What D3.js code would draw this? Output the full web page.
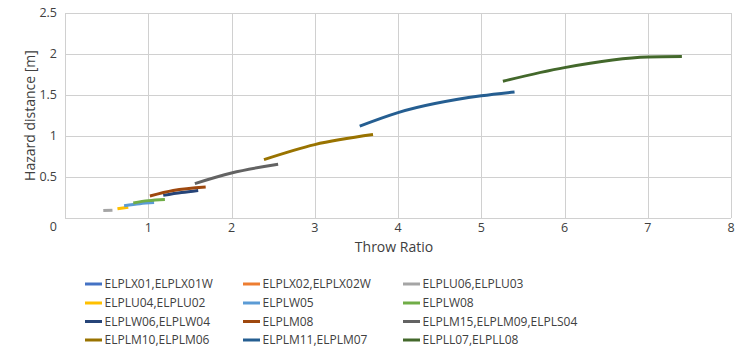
<!DOCTYPE html>
<html lang="en">
<head>
    <meta charset="UTF-8">
    <title>Hazard distance vs throw ratio</title>
    <script src="https://d3js.org/d3.v7.min.js"></script>
    <style>
        body { margin: 0; background: #fff; }
        text { font-family: "Open Sans", sans-serif; fill: #404040; }
        .grid line { stroke: #d0d0d0; stroke-width: 1; }
        .curve { fill: none; stroke-width: 3; stroke-linecap: butt; }
    </style>
</head>
<body>
<div id="chart"></div>
<script>
    // series names, colours and points
    const names = [
        "ELPLX01,ELPLX01W", "ELPLX02,ELPLX02W", "ELPLU06,ELPLU03",
        "ELPLU04,ELPLU02", "ELPLW05", "ELPLW08",
        "ELPLW06,ELPLW04", "ELPLM08", "ELPLM15,ELPLM09,ELPLS04",
        "ELPLM10,ELPLM06", "ELPLM11,ELPLM07", "ELPLL07,ELPLL08"
    ];
    const colors = [
        "#4472c4", "#ed7d31", "#a5a5a5",
        "#ffc000", "#5b9bd5", "#70ad47",
        "#264478", "#9e480e", "#636363",
        "#997300", "#255e91", "#43682b"
    ];
    // [throw ratio, hazard distance]
    const values = [
        [],
        [],
        [[0.46, 0.090], [0.57, 0.094]],
        [[0.63, 0.112], [0.76, 0.132]],
        [[0.71, 0.150], [0.90, 0.175], [1.07, 0.188]],
        [[0.82, 0.184], [1.00, 0.212], [1.20, 0.227]],
        [[1.18, 0.276], [1.40, 0.310], [1.60, 0.336]],
        [[1.02, 0.268], [1.30, 0.335], [1.69, 0.378]],
        [[1.56, 0.420], [2.00, 0.549], [2.56, 0.655]],
        [[2.39, 0.712], [3.00, 0.895], [3.70, 1.017]],
        [[3.54, 1.120], [4.00, 1.285], [5.00, 1.490], [5.40, 1.537]],
        [[5.26, 1.668], [6.00, 1.834], [7.00, 1.963], [7.41, 1.968]]
    ];
    const xTicks = [0, 1, 2, 3, 4, 5, 6, 7, 8];
    const yTicks = [0, 0.5, 1, 1.5, 2, 2.5];

    const W = 736, H = 349;
    const margin = {top: 13, right: 5, bottom: 131, left: 65};
    const width = W - margin.left - margin.right,
          height = H - margin.top - margin.bottom;

    const x = d3.scaleLinear().domain([0, 8]).range([0, width]);
    const y = d3.scaleLinear().domain([0, 2.5]).range([height, 0]);

    const svg = d3.select("#chart").append("svg")
        .attr("width", W)
        .attr("height", H);
    const g = svg.append("g")
        .attr("transform", `translate(${margin.left},${margin.top})`);

    // gridlines
    g.append("g").attr("class", "grid")
        .selectAll("line").data(yTicks).join("line")
        .attr("x1", 0).attr("x2", width)
        .attr("y1", d => Math.round(y(d)) + 0.5).attr("y2", d => Math.round(y(d)) + 0.5);
    g.append("g").attr("class", "grid")
        .selectAll("line").data(xTicks).join("line")
        .attr("y1", 0).attr("y2", height)
        .attr("x1", d => Math.round(x(d)) + 0.5).attr("x2", d => Math.round(x(d)) + 0.5);

    // tick labels
    g.append("g").selectAll("text").data(xTicks.slice(1)).join("text")
        .attr("x", d => x(d))
        .attr("y", height + 14)
        .attr("text-anchor", "middle")
        .style("font-size", "12.5px")
        .text(d => d);
    g.append("g").selectAll("text").data(yTicks).join("text")
        .attr("x", -8)
        .attr("y", d => d === 0 ? y(d) + 13 : y(d) + 4)
        .attr("text-anchor", "end")
        .style("font-size", "12.5px")
        .text(d => d);

    // axis titles
    svg.append("text")
        .attr("x", margin.left + width / 2 - 4)
        .attr("y", 252)
        .attr("text-anchor", "middle")
        .style("font-size", "14px")
        .text("Throw Ratio");
    svg.append("text")
        .attr("transform", `translate(35,${margin.top + height / 2}) rotate(-90)`)
        .attr("text-anchor", "middle")
        .style("font-size", "14px")
        .text("Hazard distance [m]");

    // curves
    const line = d3.line()
        .x(d => x(d[0]))
        .y(d => y(d[1]))
        .curve(d3.curveMonotoneX);

    g.append("g").selectAll("path")
        .data(values.map((v, i) => ({v, c: colors[i]})).filter(d => d.v.length))
        .join("path")
        .attr("class", "curve")
        .attr("stroke", d => d.c)
        .attr("d", d => line(d.v));

    // legend
    const colX = [85, 243, 403], rowY = [284, 303, 321.5, 340];
    const leg = svg.append("g").selectAll("g").data(names).join("g")
        .attr("transform", (d, i) => `translate(${colX[i % 3]},${rowY[Math.floor(i / 3)]})`);
    leg.append("line")
        .attr("x1", 0).attr("x2", 17)
        .attr("stroke", (d, i) => colors[i])
        .attr("stroke-width", 3);
    leg.append("text")
        .attr("x", 19.5)
        .attr("y", 4.2)
        .style("font-size", "12px")
        .text(d => d);
</script>
</body>
</html>
